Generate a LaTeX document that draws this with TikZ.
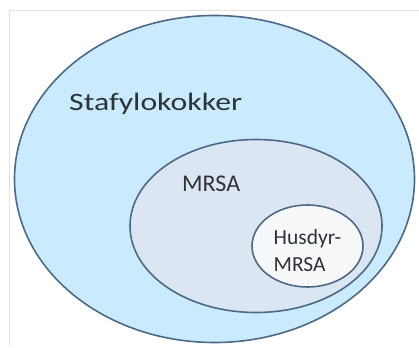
\documentclass[tikz,border=0pt]{standalone}
\usepackage{fontspec}
\setmainfont{Carlito}
\newfontfamily\widefont[FakeStretch=1.27]{Carlito}
\usetikzlibrary{shapes.geometric}

\definecolor{ringline}{HTML}{4C6A88}
\definecolor{outerfill}{HTML}{C9EBFD}
\definecolor{midfill}{HTML}{DCE6F2}
\definecolor{innerfill}{HTML}{F7F8FA}
\definecolor{labeltext}{HTML}{2E3338}

\begin{document}
\begin{tikzpicture}[x=1pt,y=-1pt,
    ring/.style={ellipse,draw=ringline,line width=1.6pt,inner sep=0pt},
    label/.style={text=labeltext,inner sep=0pt,anchor=base west,
      font=\fontsize{24}{27}\selectfont},
    small/.style={text=labeltext,inner sep=0pt,align=left,anchor=base west,
      font=\fontsize{21.5}{26.5}\selectfont}]
  \useasboundingbox (0,0) rectangle (419,347);
  % frame
  \draw[black!12,line width=1pt] (9.5,345) -- (9.5,10.5) -- (430,10.5);
  % sets
  \node[ring,fill=outerfill,minimum width=400,minimum height=327] (staf) at (214.5,179) {};
  \node[ring,fill=midfill,minimum width=252,minimum height=173] (mrsa) at (256,226) {};
  \node[ring,fill=innerfill,minimum width=111,minimum height=82] (husdyr) at (307.5,246) {};
  % labels
  \node[label,font=\widefont\fontsize{25}{27}\selectfont] (tstaf) at (69,111) {Stafylokokker};
  \node[label] (tmrsa) at (182,191.5) {MRSA};
  \node[small] (thusdyr) at (273.5,271) {Husdyr-\\MRSA};
\end{tikzpicture}
\end{document}
